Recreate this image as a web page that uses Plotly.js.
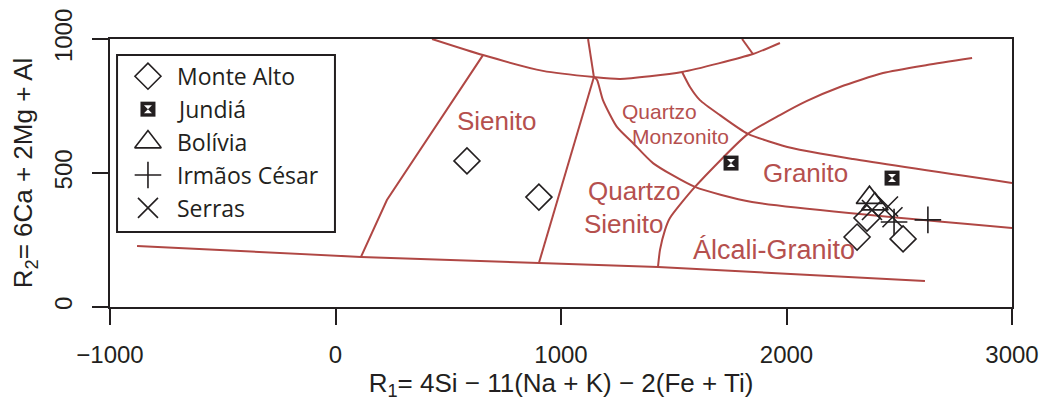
<!DOCTYPE html>
<html>
<head>
<meta charset="utf-8">
<script src="https://cdn.plot.ly/plotly-3.0.1.min.js"></script>
<style>
  html, body { margin: 0; padding: 0; background: #ffffff; }
  #chart { width: 1048px; height: 407px; }
</style>
</head>
<body>
<div id="chart"></div>
<script>
// ---- Sample compositions (R1, R2) ----
const groupNames = ['Monte Alto', 'Jundiá', 'Bolívia', 'Irmãos César', 'Serras'];

const monteAltoR1 = [583, 902, 2313, 2357, 2517];
const monteAltoR2 = [545, 410, 261, 332, 254];

const jundiaR1 = [1754, 2468];
const jundiaR2 = [537, 481];

const boliviaR1 = [2368, 2392];
const boliviaR2 = [408, 384];

const irmaosCesarR1 = [2477, 2627];
const irmaosCesarR2 = [317, 325];

const serrasR1 = [2379, 2450, 2470];
const serrasR2 = [362, 375, 335];

// ---- Field boundaries of the R1-R2 diagram ----
const baseR1 = [-880, 113, 902, 1430, 2614];
const baseR2 = [228, 187, 164, 149, 97];

const sienitoLeftR1 = [113, 228, 654];
const sienitoLeftR2 = [187, 399, 940];

const topCurveR1 = [428, 654, 920, 1146, 1262, 1537, 1851, 1971];
const topCurveR2 = [1000, 940, 881, 858, 851, 877, 944, 985];

const topSpurLeftR1 = [1120, 1146];
const topSpurLeftR2 = [1000, 858];

const topSpurRightR1 = [1803, 1851];
const topSpurRightR2 = [1000, 944];

const quartzoSienitoLeftR1 = [1146, 902];
const quartzoSienitoLeftR2 = [858, 164];

const granitoLowerR1 = [1146, 1160, 1186, 1248, 1319, 1408, 1594, 1847, 3000];
const granitoLowerR2 = [858, 847, 772, 672, 612, 537, 448, 392, 295];

const granitoUpperR1 = [1537, 1572, 1616, 1705, 1829, 2024, 2295, 3000];
const granitoUpperR2 = [877, 821, 772, 716, 646, 593, 552, 463];

const alcaliR1 = [1430, 1439, 1461, 1483, 1594, 1829, 1971, 2091, 2237, 2428, 2623, 2823];
const alcaliR2 = [149, 213, 287, 332, 448, 646, 716, 769, 821, 873, 903, 929];

// ---- Axis ticks ----
const xTickVals = [-1000, 0, 1000, 2000, 3000];
const xTickText = ['\u22121000', '0', '1000', '2000', '3000'];
const yTickVals = [0, 500, 1000];
const yTickText = ['0', '500', '1000'];

// ---- Styles ----
const INK = '#231f20';
const FIELD = '#b04744';
const FIELD_TEXT = '#b5504e';
const AXIS_FONT = 'Liberation Sans, Arial, sans-serif';
const LEGEND_FONT = 'Open Sans, Noto Sans, sans-serif';

// [x, y, curved?]
const boundaries = [
  [baseR1, baseR2, false],
  [sienitoLeftR1, sienitoLeftR2, false],
  [topCurveR1, topCurveR2, true],
  [topSpurLeftR1, topSpurLeftR2, false],
  [topSpurRightR1, topSpurRightR2, false],
  [quartzoSienitoLeftR1, quartzoSienitoLeftR2, false],
  [granitoLowerR1, granitoLowerR2, true],
  [granitoUpperR1, granitoUpperR2, true],
  [alcaliR1, alcaliR2, true]
];

const traces = boundaries.map(([xs, ys, curved]) => ({
  type: 'scatter', mode: 'lines', x: xs, y: ys,
  line: curved ? { color: FIELD, width: 2, shape: 'spline', smoothing: 0.6 }
               : { color: FIELD, width: 2 },
  hoverinfo: 'skip', showlegend: false
}));

// Marker styles per group (data axes and legend keys share them)
const groupMarkers = [
  [{ symbol: 'diamond-open', size: 20, color: INK, line: { color: INK, width: 1.6 } }],
  [{ symbol: 'square', size: 15, color: INK, line: { color: INK, width: 0 } },
   { symbol: 'hourglass', size: 8, color: '#ffffff', line: { color: '#ffffff', width: 0 } }],
  [{ symbol: 'triangle-up-open', size: 23, color: INK, line: { color: INK, width: 1.6 } }],
  [{ symbol: 'cross-thin-open', size: 19, color: INK, line: { color: INK, width: 1.6 } }],
  [{ symbol: 'x-thin-open', size: 20, color: INK, line: { color: INK, width: 1.6 } }]
];
const groupData = [
  [monteAltoR1, monteAltoR2],
  [jundiaR1, jundiaR2],
  [boliviaR1, boliviaR2],
  [irmaosCesarR1, irmaosCesarR2],
  [serrasR1, serrasR2]
];

groupData.forEach(([xs, ys], g) => {
  groupMarkers[g].forEach(m => {
    traces.push({
      type: 'scatter', mode: 'markers', x: xs, y: ys, name: groupNames[g],
      marker: m, showlegend: false, cliponaxis: false
    });
  });
});

// Legend keys drawn on a hidden helper axis that spans the legend box
const LEG_TOP = 0.12, LEG_STEP = 0.186, LEG_KEY_X = 0.138, LEG_TEXT_X = 0.262;
const legendAnnotations = [];
groupNames.forEach((name, g) => {
  const yy = 1 - (LEG_TOP + g * LEG_STEP);
  groupMarkers[g].forEach(m => {
    traces.push({
      type: 'scatter', mode: 'markers', x: [LEG_KEY_X], y: [yy],
      xaxis: 'x2', yaxis: 'y2', marker: m, showlegend: false, hoverinfo: 'skip'
    });
  });
  legendAnnotations.push({
    xref: 'x2', yref: 'y2', x: LEG_TEXT_X, y: yy, text: name,
    showarrow: false, xanchor: 'left', yanchor: 'middle',
    font: { family: LEGEND_FONT, size: 23, color: INK }
  });
});

// Field names
const fieldLabels = [
  { text: 'Sienito', x: 716, y: 694, size: 26 },
  { text: 'Quartzo', x: 1328, y: 433, size: 26 },
  { text: 'Sienito', x: 1279, y: 310, size: 26 },
  { text: 'Quartzo', x: 1439, y: 731, size: 21 },
  { text: 'Monzonito', x: 1532, y: 638, size: 21 },
  { text: 'Granito', x: 2086, y: 500, size: 26 },
  { text: 'Álcali-Granito', x: 1945, y: 213, size: 27 }
];
const fieldAnnotations = fieldLabels.map(f => ({
  xref: 'x', yref: 'y', x: f.x, y: f.y, text: f.text, showarrow: false,
  xanchor: 'center', yanchor: 'middle',
  font: { family: AXIS_FONT, size: f.size, color: FIELD_TEXT }
}));

const axisCommon = {
  showgrid: false, zeroline: false,
  showline: true, mirror: true, linecolor: INK, linewidth: 2,
  ticks: 'outside', ticklen: 16, tickwidth: 2, tickcolor: INK,
  tickfont: { family: AXIS_FONT, size: 24, color: INK },
  automargin: false, fixedrange: true
};

const layout = {
  width: 1048, height: 407,
  margin: { l: 110, r: 36, t: 39, b: 100, pad: 0 },
  paper_bgcolor: '#ffffff', plot_bgcolor: '#ffffff',
  showlegend: false,
  xaxis: Object.assign({}, axisCommon, {
    range: [-1000, 3000], tickmode: 'array', tickvals: xTickVals, ticktext: xTickText,
    ticklabelstandoff: 9,
    title: { text: 'R<sub>1</sub>= 4Si \u2212 11(Na + K) \u2212 2(Fe + Ti)',
             font: { family: AXIS_FONT, size: 26, color: INK }, standoff: 4 }
  }),
  yaxis: Object.assign({}, axisCommon, {
    range: [0, 1000], tickmode: 'array', tickvals: yTickVals, ticktext: yTickText,
    tickangle: -90, ticklabelstandoff: 10,
    title: { text: 'R<sub>2</sub>= 6Ca + 2Mg + Al',
             font: { family: AXIS_FONT, size: 26, color: INK }, standoff: 10 }
  }),
  xaxis2: { domain: [0.0089, 0.2494], range: [0, 1], anchor: 'y2', visible: false, fixedrange: true },
  yaxis2: { domain: [0.2799, 0.9403], range: [0, 1], anchor: 'x2', visible: false, fixedrange: true },
  shapes: [{
    type: 'rect', xref: 'paper', yref: 'paper',
    x0: 0.0078, x1: 0.2494, y0: 0.2799, y1: 0.9403,
    line: { color: INK, width: 2 }, fillcolor: 'rgba(0,0,0,0)', layer: 'above'
  }],
  annotations: fieldAnnotations.concat(legendAnnotations)
};

Plotly.newPlot('chart', traces, layout, { displayModeBar: false, staticPlot: true });
</script>
</body>
</html>
